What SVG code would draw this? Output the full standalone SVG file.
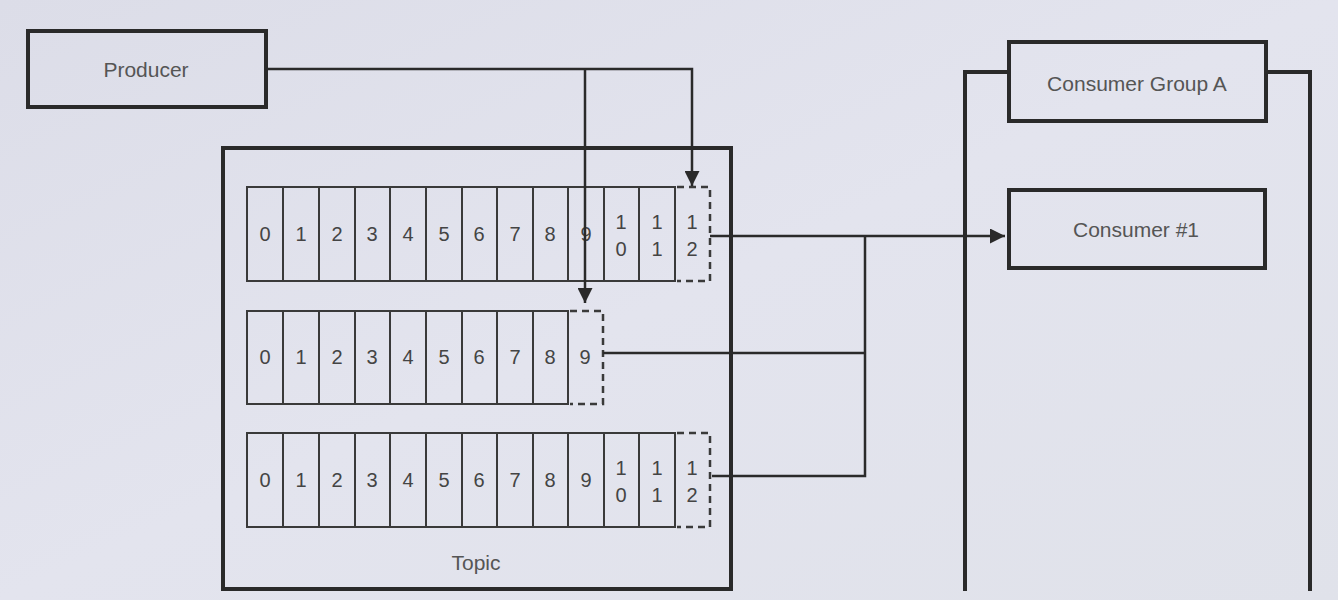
<svg xmlns="http://www.w3.org/2000/svg" width="1338" height="600" viewBox="0 0 1338 600">
<defs>
<marker id="arr" viewBox="0 0 10 10" refX="10" refY="5" markerWidth="6" markerHeight="6" orient="auto" markerUnits="strokeWidth">
<path d="M0,0 L10,5 L0,10 z" fill="#2a2a2a"/>
</marker>
<linearGradient id="bg" x1="0" y1="0" x2="1" y2="1">
<stop offset="0" stop-color="#dcdde8"/>
<stop offset="0.5" stop-color="#e3e4ee"/>
<stop offset="1" stop-color="#e0e2ea"/>
</linearGradient>
</defs>
<style>
.box{fill:none;stroke:#2a2a2a;stroke-width:4}
.cell{fill:none;stroke:#3a3a3a;stroke-width:2}
.dash{fill:none;stroke:#3a3a3a;stroke-width:2.5;stroke-dasharray:7,5}
.lbl{font-family:"Liberation Sans",Arial,sans-serif;font-size:21px;fill:#555;text-anchor:middle}
.num{font-family:"Liberation Sans",Arial,sans-serif;font-size:20px;fill:#444;text-anchor:middle}
.con{fill:none;stroke:#2a2a2a;stroke-width:2.5}
</style>
<rect width="1338" height="600" fill="url(#bg)"/>

<g id="producer">
<rect class="box" x="28" y="31" width="238" height="76"/>
<text class="lbl" x="146" y="77">Producer</text>
</g>

<g id="topic">
<rect class="box" x="223" y="148" width="508" height="441"/>
<text class="lbl" x="476" y="570">Topic</text>
</g>

<g id="partition0">
<rect class="cell" x="247" y="187" width="428" height="94"/>
<path class="cell" d="M283,187V281M319,187V281M355,187V281M390,187V281M426,187V281M462,187V281M497,187V281M533,187V281M568,187V281M604,187V281M639,187V281"/>
<path class="dash" d="M677,187H710V281H677"/>
<g class="num">
<text x="265" y="241">0</text><text x="301" y="241">1</text><text x="337" y="241">2</text><text x="372" y="241">3</text><text x="408" y="241">4</text><text x="444" y="241">5</text><text x="479" y="241">6</text><text x="515" y="241">7</text><text x="550" y="241">8</text><text x="586" y="241">9</text>
<text x="621" y="229">1</text><text x="621" y="256">0</text>
<text x="657" y="229">1</text><text x="657" y="256">1</text>
<text x="692" y="229">1</text><text x="692" y="256">2</text>
</g>
</g>

<g id="partition1">
<rect class="cell" x="247" y="311" width="321" height="93"/>
<path class="cell" d="M283,311V404M319,311V404M355,311V404M390,311V404M426,311V404M462,311V404M497,311V404M533,311V404"/>
<path class="dash" d="M570,311H603V404H570"/>
<g class="num">
<text x="265" y="364">0</text><text x="301" y="364">1</text><text x="337" y="364">2</text><text x="372" y="364">3</text><text x="408" y="364">4</text><text x="444" y="364">5</text><text x="479" y="364">6</text><text x="515" y="364">7</text><text x="550" y="364">8</text><text x="585" y="364">9</text>
</g>
</g>

<g id="partition2">
<rect class="cell" x="247" y="433" width="428" height="94"/>
<path class="cell" d="M283,433V527M319,433V527M355,433V527M390,433V527M426,433V527M462,433V527M497,433V527M533,433V527M568,433V527M604,433V527M639,433V527"/>
<path class="dash" d="M677,433H710V527H677"/>
<g class="num">
<text x="265" y="487">0</text><text x="301" y="487">1</text><text x="337" y="487">2</text><text x="372" y="487">3</text><text x="408" y="487">4</text><text x="444" y="487">5</text><text x="479" y="487">6</text><text x="515" y="487">7</text><text x="550" y="487">8</text><text x="586" y="487">9</text>
<text x="621" y="475">1</text><text x="621" y="502">0</text>
<text x="657" y="475">1</text><text x="657" y="502">1</text>
<text x="692" y="475">1</text><text x="692" y="502">2</text>
</g>
</g>

<g id="consumer-group-a">
<path class="box" d="M1008,72H965V591M1266,72H1310V591"/>
<rect class="box" x="1009" y="42" width="257" height="79"/>
<text class="lbl" x="1137" y="91">Consumer Group A</text>
</g>

<g id="consumer1">
<rect class="box" x="1009" y="190" width="256" height="78"/>
<text class="lbl" x="1136" y="237">Consumer #1</text>
</g>

<g id="connectors">
<path class="con" d="M266,69H692V186" marker-end="url(#arr)"/>
<path class="con" d="M585,69V303" marker-end="url(#arr)"/>
<path class="con" d="M710,236H1005" marker-end="url(#arr)"/>
<path class="con" d="M603,353H865"/>
<path class="con" d="M712,476H865V236"/>
</g>
</svg>
